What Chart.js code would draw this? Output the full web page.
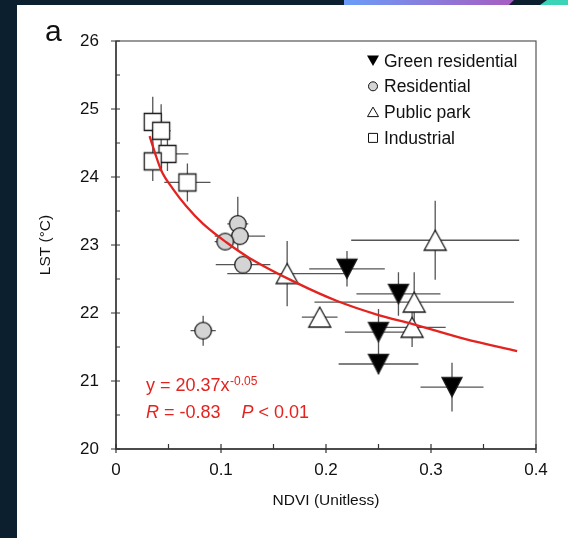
<!DOCTYPE html>
<html>
<head>
<meta charset="utf-8">
<script src="https://cdn.jsdelivr.net/npm/chart.js@4.4.0/dist/chart.umd.min.js"></script>
<style>
  html, body { margin: 0; padding: 0; }
  body { width: 568px; height: 538px; background: #0b1f2e; position: relative; overflow: hidden; }
  #card { position: absolute; left: 17px; top: 5px; width: 551px; height: 533px; background: #fff; }
  #deco1 { position: absolute; left: 344px; top: 0; width: 170px; height: 5px;
           background: linear-gradient(90deg, #6b9cf8, #a75cc0);
           clip-path: polygon(0 0, 100% 0, 97% 100%, 0 100%); }
  #deco2 { position: absolute; left: 540px; top: 0; width: 28px; height: 5px; background: #3bd4b6;
           clip-path: polygon(25% 0, 100% 0, 100% 100%, 0 100%); }
  canvas { position: absolute; left: 0; top: 0; }
</style>
</head>
<body>
<div id="card"></div>
<div id="deco1"></div>
<div id="deco2"></div>
<canvas id="chartCanvas" width="568" height="538"></canvas>
<script>
// ---- data ----
const greenX = [0.220, 0.269, 0.250, 0.250, 0.320];
const greenY = [22.65, 22.28, 21.72, 21.25, 20.91];
const greenXErr = [0.036, 0.040, 0.032, 0.038, 0.030];
const greenYErr = [0.26, 0.32, 0.34, 0.15, 0.36];

const resX = [0.116, 0.118, 0.104, 0.121, 0.083];
const resY = [23.31, 23.13, 23.05, 22.71, 21.74];
const resXErr = [0.010, 0.024, 0.010, 0.026, 0.012];
const resYErr = [0.40, 0.10, 0.10, 0.12, 0.22];

const parkX = [0.163, 0.304, 0.194, 0.284, 0.282];
const parkY = [22.58, 23.07, 21.94, 22.16, 21.79];
const parkXErr = [0.057, 0.080, 0.017, 0.095, 0.032];
const parkYErr = [0.48, 0.58, 0, 0.44, 0.29];

const indX = [0.035, 0.043, 0.049, 0.035, 0.068];
const indY = [24.81, 24.68, 24.34, 24.23, 23.92];
const indXErr = [0.008, 0.009, 0.020, 0.006, 0.022];
const indYErr = [0.37, 0.39, 0.25, 0.29, 0.28];

// fitted curve, points
const curveX = [0.032, 0.037, 0.043, 0.054, 0.067, 0.083, 0.105, 0.127, 0.171, 0.21, 0.25, 0.282, 0.332, 0.382];
const curveY = [24.60, 24.36, 24.10, 23.83, 23.57, 23.31, 23.04, 22.81, 22.45, 22.18, 21.97, 21.84, 21.62, 21.44];

const xTickValues = [0, 0.1, 0.2, 0.3, 0.4];
const xTickLabels = ['0', '0.1', '0.2', '0.3', '0.4'];
const yTickValues = [20, 21, 22, 23, 24, 25, 26];
const yTickLabels = ['20', '21', '22', '23', '24', '25', '26'];

const seriesNames = ['Green residential', 'Residential', 'Public park', 'Industrial'];

const FONT = '"Liberation Sans", Arial, Helvetica, sans-serif';
const RED = '#e3231f';

// marker images, centred on their bounding box
function makeMarker(shape) {
    const c = document.createElement('canvas');
    c.width = 28; c.height = 28;
    const g = c.getContext('2d');
    g.lineWidth = 1.3;
    g.strokeStyle = '#1a1a1a';
    g.beginPath();
    if (shape === 'down') {
        g.moveTo(4, 4.5); g.lineTo(24, 4.5); g.lineTo(14, 23.5); g.closePath();
        g.fillStyle = '#000'; g.fill(); g.stroke();
    } else if (shape === 'up') {
        g.moveTo(14, 4); g.lineTo(25, 24); g.lineTo(3, 24); g.closePath();
        g.fillStyle = '#fff'; g.fill(); g.stroke();
    } else if (shape === 'circle') {
        g.arc(14, 14, 8.3, 0, Math.PI * 2);
        g.fillStyle = '#d4d4d4'; g.fill(); g.stroke();
    } else {
        g.rect(5.5, 5.5, 17, 17);
        g.fillStyle = '#fff'; g.fill(); g.stroke();
    }
    return c;
}

const series = [
    { x: greenX, y: greenY, xe: greenXErr, ye: greenYErr, marker: makeMarker('down') },
    { x: resX, y: resY, xe: resXErr, ye: resYErr, marker: makeMarker('circle') },
    { x: parkX, y: parkY, xe: parkXErr, ye: parkYErr, marker: makeMarker('up') },
    { x: indX, y: indY, xe: indXErr, ye: indYErr, marker: makeMarker('rect') }
];

// error bars, frame, minor ticks, inner legend, annotation
const extras = {
    id: 'extras',
    beforeDatasetsDraw(chart) {
        const { ctx, scales: { x, y } } = chart;
        ctx.save();
        ctx.strokeStyle = '#555';
        ctx.lineWidth = 1.3;
        series.forEach(s => {
            s.x.forEach((xv, i) => {
                const px = x.getPixelForValue(xv);
                const py = y.getPixelForValue(s.y[i]);
                ctx.beginPath();
                if (s.xe[i]) {
                    ctx.moveTo(x.getPixelForValue(xv - s.xe[i]), py);
                    ctx.lineTo(x.getPixelForValue(xv + s.xe[i]), py);
                }
                if (s.ye[i]) {
                    ctx.moveTo(px, y.getPixelForValue(s.y[i] - s.ye[i]));
                    ctx.lineTo(px, y.getPixelForValue(s.y[i] + s.ye[i]));
                }
                ctx.stroke();
            });
        });
        ctx.restore();
    },
    afterDraw(chart) {
        const { ctx, chartArea: a, scales: { x, y } } = chart;
        ctx.save();

        // frame
        ctx.strokeStyle = '#555';
        ctx.lineWidth = 1.2;
        ctx.strokeRect(a.left, a.top, a.right - a.left, a.bottom - a.top);
        ctx.strokeStyle = '#333';
        ctx.lineWidth = 1.4;
        ctx.beginPath();
        ctx.moveTo(a.left, a.top); ctx.lineTo(a.left, a.bottom); ctx.lineTo(a.right, a.bottom);
        ctx.stroke();

        // ticks
        ctx.lineWidth = 1.2;
        ctx.beginPath();
        yTickValues.forEach((v, i) => {
            const py = y.getPixelForValue(v);
            ctx.moveTo(a.left - 5, py); ctx.lineTo(a.left + 4, py);
            if (i < yTickValues.length - 1) {
                const pm = y.getPixelForValue(v + 0.5);
                ctx.moveTo(a.left, pm); ctx.lineTo(a.left + 4, pm);
            }
        });
        xTickValues.forEach((v, i) => {
            const px = x.getPixelForValue(v);
            ctx.moveTo(px, a.bottom + 4); ctx.lineTo(px, a.bottom - 5);
            if (i < xTickValues.length - 1) {
                const pm = x.getPixelForValue(v + 0.05);
                ctx.moveTo(pm, a.bottom); ctx.lineTo(pm, a.bottom - 5);
            }
        });
        ctx.stroke();

        // panel letter
        ctx.fillStyle = '#111';
        ctx.font = '30px ' + FONT;
        ctx.textBaseline = 'alphabetic';
        ctx.fillText('a', 45, 40.5);

        // inner legend
        ctx.font = '17.5px ' + FONT;
        ctx.textBaseline = 'alphabetic';
        seriesNames.forEach((name, i) => {
            const base = 66.5 + i * 25.8;
            const cx = 373, cy = base - 6;
            ctx.lineWidth = 1;
            ctx.strokeStyle = '#111';
            ctx.beginPath();
            if (i === 0) {
                ctx.moveTo(cx - 6, cy - 5); ctx.lineTo(cx + 6, cy - 5); ctx.lineTo(cx, cy + 5.5); ctx.closePath();
                ctx.fillStyle = '#000'; ctx.fill();
            } else if (i === 1) {
                ctx.arc(cx, cy, 4.5, 0, Math.PI * 2);
                ctx.fillStyle = '#d4d4d4'; ctx.fill(); ctx.stroke();
            } else if (i === 2) {
                ctx.moveTo(cx, cy - 5); ctx.lineTo(cx + 5.5, cy + 4.5); ctx.lineTo(cx - 5.5, cy + 4.5); ctx.closePath();
                ctx.fillStyle = '#fff'; ctx.fill(); ctx.stroke();
            } else {
                ctx.rect(cx - 4.5, cy - 4.5, 9, 9);
                ctx.fillStyle = '#fff'; ctx.fill(); ctx.stroke();
            }
            ctx.fillStyle = '#111';
            ctx.fillText(name, 384, base);
        });

        // regression annotation
        ctx.fillStyle = RED;
        const ax = x.getPixelForValue(0.0285);
        const b1 = y.getPixelForValue(20.85);
        const b2 = y.getPixelForValue(20.45);
        ctx.font = '18px ' + FONT;
        const eq = 'y = 20.37x';
        ctx.fillText(eq, ax, b1);
        const eqW = ctx.measureText(eq).width;
        ctx.font = '12px ' + FONT;
        ctx.fillText('-0.05', ax + eqW + 0.5, b1 - 6.5);

        ctx.font = 'italic 18px ' + FONT;
        ctx.fillText('R', ax, b2);
        let w = ctx.measureText('R').width;
        ctx.font = '18px ' + FONT;
        ctx.fillText(' = -0.83', ax + w, b2);
        const px2 = x.getPixelForValue(0.1196);
        ctx.font = 'italic 18px ' + FONT;
        ctx.fillText('P', px2, b2);
        w = ctx.measureText('P').width;
        ctx.font = '18px ' + FONT;
        ctx.fillText(' < 0.01', px2 + w, b2);

        ctx.restore();
    }
};

const toPoints = (xs, ys) => xs.map((v, i) => ({ x: v, y: ys[i] }));

const myChart = new Chart(document.getElementById('chartCanvas'), {
    type: 'scatter',
    data: {
        datasets: [
            {
                label: 'Fit',
                data: toPoints(curveX, curveY),
                showLine: true,
                borderColor: RED,
                borderWidth: 2.3,
                pointRadius: 0,
                cubicInterpolationMode: 'monotone',
                order: 0
            },
            ...series.map((s, i) => ({
                label: seriesNames[i],
                data: toPoints(s.x, s.y),
                pointStyle: s.marker,
                pointRadius: 10,
                order: 1 + i
            }))
        ]
    },
    options: {
        responsive: false,
        animation: false,
        layout: { padding: { left: 32, top: 41, right: 32, bottom: 24 } },
        plugins: {
            legend: { display: false },
            tooltip: { enabled: false }
        },
        scales: {
            x: {
                type: 'linear',
                min: 0,
                max: 0.4,
                afterBuildTicks: s => { s.ticks = xTickValues.map(v => ({ value: v })); },
                afterFit: s => { s.height = 65; },
                grid: { display: false, drawTicks: false },
                border: { display: false },
                ticks: {
                    padding: 11,
                    color: '#111',
                    maxRotation: 0,
                    autoSkip: false,
                    font: { size: 17, family: FONT },
                    callback: (v, i) => xTickLabels[i]
                },
                title: {
                    display: true,
                    text: 'NDVI (Unitless)',
                    color: '#111',
                    padding: { top: 4, bottom: 4 },
                    font: { size: 15.5, family: FONT }
                }
            },
            y: {
                type: 'linear',
                min: 20,
                max: 26,
                afterBuildTicks: s => { s.ticks = yTickValues.map(v => ({ value: v })); },
                afterFit: s => { s.width = 84; },
                grid: { display: false, drawTicks: false },
                border: { display: false },
                ticks: {
                    padding: 17,
                    color: '#111',
                    autoSkip: false,
                    font: { size: 17, family: FONT },
                    callback: (v, i) => yTickLabels[i]
                },
                title: {
                    display: true,
                    text: 'LST (°C)',
                    color: '#111',
                    padding: { top: 4, bottom: 4 },
                    font: { size: 15.5, family: FONT }
                }
            }
        }
    },
    plugins: [extras]
});
</script>
</body>
</html>
